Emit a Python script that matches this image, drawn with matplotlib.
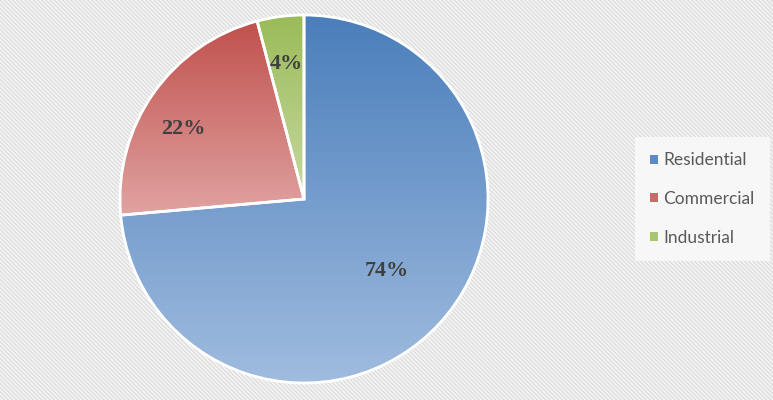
import numpy as np
import matplotlib
matplotlib.use("Agg")
import matplotlib.pyplot as plt
from matplotlib.colors import LinearSegmentedColormap
from matplotlib.patches import Rectangle, Patch

categories = ["Residential", "Commercial", "Industrial"]
values = [73.6, 22.3, 4.1]
labels_pct = ["74%", "22%", "4%"]
top_colors = ["#4A7EBB", "#C0504D", "#9BBB59"]
bottom_colors = ["#A0BCDF", "#E0A3A1", "#C6D9A0"]
legend_colors = ["#5B8AC6", "#CC6A67", "#A9C56E"]

W, H = 773, 400
plt.rcParams["hatch.linewidth"] = 0.9
fig = plt.figure(figsize=(W / 100, H / 100), dpi=100)
fig.patch.set_facecolor("#F4F4F4")
bg = Rectangle((0, 0), 1, 1, transform=fig.transFigure, facecolor="#F4F4F4",
               edgecolor="#DCDCDC", hatch="\\" * 8, linewidth=0, zorder=-10)
fig.patches.append(bg)

cx, cy, r = 304, 199, 184
ax = fig.add_axes([(cx - r) / W, (H - cy - r) / H, 2 * r / W, 2 * r / H])
ax.set_axis_off()
ax.patch.set_alpha(0)

wedges, _ = ax.pie(values, startangle=90, counterclock=False, radius=1,
                   wedgeprops=dict(facecolor="none", edgecolor="white", linewidth=2))
ax.set_xlim(-1.0, 1.0)
ax.set_ylim(-1.0, 1.0)

grad = np.linspace(1, 0, 256).reshape(-1, 1)
for w, tc, bc in zip(wedges, top_colors, bottom_colors):
    path = w.get_path().transformed(w.get_patch_transform())
    ext = path.get_extents()
    cmap = LinearSegmentedColormap.from_list("g", [bc, tc])
    im = ax.imshow(grad, cmap=cmap, extent=[ext.x0, ext.x1, ext.y0, ext.y1],
                   aspect="auto", origin="upper", zorder=1, vmin=0, vmax=1)
    im.set_clip_path(w)
    w.set_zorder(2)
ax.set_xlim(-1.0, 1.0)
ax.set_ylim(-1.0, 1.0)

# label radius and angular offset per wedge (relative to wedge middle)
label_r = [0.60, 0.76, 0.74]
label_da = [1.5, 5.0, 0.0]
start = 90.0
total = sum(values)
for v, lab, lr, da in zip(values, labels_pct, label_r, label_da):
    ang = start - 360.0 * v / total / 2 + da
    start -= 360.0 * v / total
    x = lr * np.cos(np.radians(ang))
    y = lr * np.sin(np.radians(ang))
    ax.text(x, y, lab, ha="center", va="center", fontsize=16, fontweight="bold",
            family="Liberation Serif", color="#404040", zorder=5)

handles = [Patch(facecolor=c, edgecolor="none") for c in legend_colors]
leg = fig.legend(handles, categories, loc="center left",
                 bbox_to_anchor=(626 / W, 1 - 199 / H), frameon=True,
                 prop={"family": "Lato", "size": 12.5}, labelcolor="#595959",
                 handlelength=0.45, handleheight=0.45, handletextpad=0.3,
                 labelspacing=1.3, borderpad=0.9, fancybox=False)
leg.get_frame().set_facecolor("#FAFAFA")
leg.get_frame().set_edgecolor("none")
leg.get_frame().set_alpha(0.85)

fig.savefig("out.png", dpi=100)
